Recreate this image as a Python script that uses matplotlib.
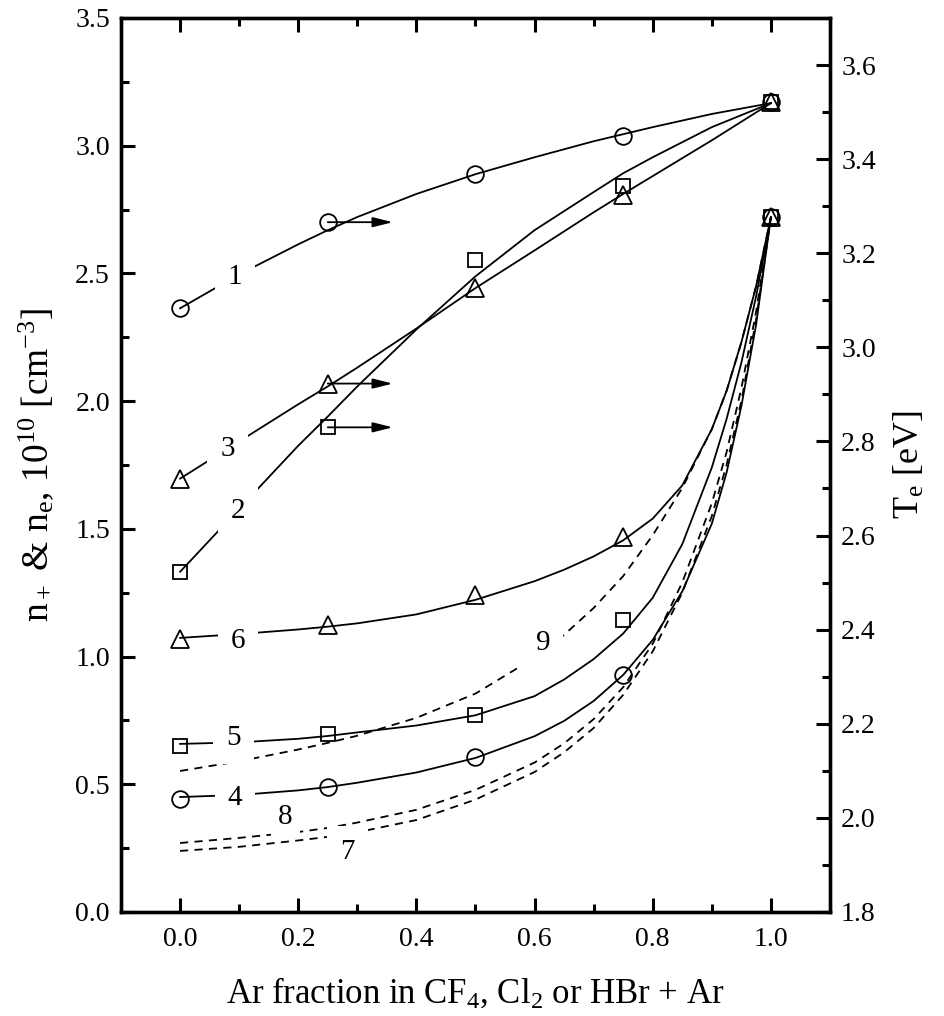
import matplotlib
matplotlib.use("Agg")
import matplotlib.pyplot as plt
from matplotlib.ticker import MultipleLocator

plt.rcParams['font.family'] = ['Liberation Serif', 'DejaVu Serif']
plt.rcParams['mathtext.fontset'] = 'custom'
plt.rcParams['mathtext.rm'] = 'Liberation Serif'
plt.rcParams['mathtext.it'] = 'Liberation Serif:italic'
plt.rcParams['mathtext.default'] = 'regular'

# ---- measured points ----
x_pts = [0.0, 0.25, 0.5, 0.75, 1.0]
# electron temperature (right axis) [eV]
te1_pts = [3.083, 3.266, 3.368, 3.449, 3.521]   # circles
te2_pts = [2.523, 2.830, 3.185, 3.343, 3.521]   # squares
te3_pts = [2.721, 2.923, 3.126, 3.323, 3.521]   # triangles
# densities (left axis) [1e10 cm^-3]
n4_pts = [0.442, 0.489, 0.607, 0.928, 2.72]     # circles
n5_pts = [0.650, 0.697, 0.771, 1.143, 2.72]     # squares
n6_pts = [1.070, 1.124, 1.241, 1.468, 2.72]     # triangles

# ---- fitted / model curves ----
fx_te = [0.0, 0.1, 0.2, 0.25, 0.3, 0.4, 0.5, 0.6, 0.7, 0.75, 0.8, 0.9, 1.0]
fit1 = [3.083, 3.155, 3.219, 3.249, 3.277, 3.326, 3.368, 3.404, 3.438, 3.453, 3.468, 3.496, 3.519]
fit2 = [2.523, 2.657, 2.791, 2.853, 2.917, 3.038, 3.151, 3.249, 3.330, 3.370, 3.404, 3.468, 3.519]
fit3 = [2.721, 2.800, 2.879, 2.917, 2.957, 3.040, 3.126, 3.206, 3.287, 3.326, 3.364, 3.440, 3.519]

fx_n = [0.0, 0.1, 0.2, 0.25, 0.3, 0.4, 0.5, 0.6, 0.65, 0.7, 0.75, 0.8, 0.85, 0.9,
        0.925, 0.95, 0.975, 1.0]
fit4 = [0.450, 0.458, 0.476, 0.489, 0.506, 0.546, 0.603, 0.688, 0.748, 0.826, 0.928,
        1.065, 1.255, 1.52, 1.72, 1.98, 2.30, 2.72]
fit5 = [0.658, 0.664, 0.678, 0.689, 0.703, 0.730, 0.770, 0.845, 0.910, 0.990, 1.090,
        1.23, 1.44, 1.74, 1.93, 2.15, 2.41, 2.72]
fit6 = [1.073, 1.088, 1.106, 1.117, 1.130, 1.165, 1.222, 1.295, 1.340, 1.392, 1.455,
        1.540, 1.67, 1.89, 2.04, 2.23, 2.45, 2.72]
mod7 = [0.239, 0.255, 0.280, 0.294, 0.312, 0.360, 0.440, 0.548, 0.625, 0.720, 0.850,
        1.02, 1.25, 1.55, 1.75, 2.00, 2.32, 2.72]
mod8 = [0.270, 0.290, 0.313, 0.329, 0.350, 0.400, 0.478, 0.585, 0.660, 0.755, 0.880,
        1.05, 1.29, 1.60, 1.80, 2.05, 2.35, 2.72]
mod9 = [0.552, 0.590, 0.636, 0.662, 0.690, 0.760, 0.855, 0.995, 1.085, 1.190, 1.315,
        1.475, 1.66, 1.89, 2.04, 2.23, 2.45, 2.72]

# curve labels (x, value)
lab_te = {'1': (0.093, 3.149), '2': (0.098, 2.653), '3': (0.080, 2.785)}
lab_n = {'4': (0.093, 0.446), '5': (0.090, 0.681), '6': (0.098, 1.061),
         '7': (0.283, 0.233), '8': (0.178, 0.370), '9': (0.614, 1.053)}
arrow_end_x = 0.36

fig = plt.figure(figsize=(9.44, 10.16), dpi=100)
ax = fig.add_axes([0.1282, 0.1024, 0.7510, 0.8799])
ax2 = ax.twinx()

lw = 1.3
kw_m = dict(linestyle='none', markerfacecolor='none', markeredgecolor='black',
            markeredgewidth=1.3, zorder=6)

# densities on left axis
ax.plot(fx_n, fit4, color='black', lw=lw, zorder=2)
ax.plot(fx_n, fit5, color='black', lw=lw, zorder=2)
ax.plot(fx_n, fit6, color='black', lw=lw, zorder=2)
for m in (mod7, mod8, mod9):
    ax.plot(fx_n, m, color='black', lw=lw, linestyle=(0, (4.5, 3.5)), zorder=2)
ax.plot(x_pts, n4_pts, marker='o', markersize=12, **kw_m)
ax.plot(x_pts, n5_pts, marker='s', markersize=10.5, **kw_m)
ax.plot(x_pts, n6_pts, marker='^', markersize=13, **kw_m)

for k, (xx, yy) in lab_n.items():
    pad = 0.25 if k == '8' else 0.45
    ax.text(xx, yy, k, fontsize=21, ha='center', va='center', zorder=5,
            bbox=dict(boxstyle='square,pad=%g' % pad, facecolor='white', edgecolor='none'))

# temperatures on right axis
ax2.plot(fx_te, fit1, color='black', lw=lw, zorder=2)
ax2.plot(fx_te, fit2, color='black', lw=lw, zorder=2)
ax2.plot(fx_te, fit3, color='black', lw=lw, zorder=2)
ax2.plot(x_pts, te1_pts, marker='o', markersize=12, **kw_m)
ax2.plot(x_pts, te2_pts, marker='s', markersize=10.5, **kw_m)
ax2.plot(x_pts, te3_pts, marker='^', markersize=13, **kw_m)
for k, (xx, yy) in lab_te.items():
    ax2.text(xx, yy, k, fontsize=21, ha='center', va='center', zorder=5,
             bbox=dict(boxstyle='square,pad=0.45', facecolor='white', edgecolor='none'))
for arr in (te1_pts, te2_pts, te3_pts):
    ax2.annotate('', xy=(arrow_end_x, arr[1]), xytext=(x_pts[1], arr[1]),
                 arrowprops=dict(arrowstyle='-|>,head_length=1.2,head_width=0.3',
                                 color='black', lw=1.3, shrinkA=0, shrinkB=0),
                 zorder=4)

# axes formatting
ax.set_xlim(-0.1, 1.1)
ax.set_ylim(0.0, 3.5)
ax2.set_ylim(1.8, 3.7)
ax.xaxis.set_major_locator(MultipleLocator(0.2))
ax.xaxis.set_minor_locator(MultipleLocator(0.1))
ax.yaxis.set_major_locator(MultipleLocator(0.5))
ax.yaxis.set_minor_locator(MultipleLocator(0.25))
ax2.yaxis.set_major_locator(MultipleLocator(0.2))
ax2.yaxis.set_minor_locator(MultipleLocator(0.1))
ax.xaxis.set_major_formatter(plt.FormatStrFormatter('%.1f'))
ax.yaxis.set_major_formatter(plt.FormatStrFormatter('%.1f'))
ax2.yaxis.set_major_formatter(plt.FormatStrFormatter('%.1f'))

ax.tick_params(which='both', direction='in', top=True, right=False, labelsize=20, width=2.2)
ax.tick_params(axis='x', which='both', pad=11)
ax.tick_params(axis='y', which='both', pad=8)
ax.tick_params(which='major', length=10)
ax.tick_params(which='minor', length=6)
ax2.tick_params(which='both', direction='in', right=True, labelsize=20, width=2.2, pad=8)
ax2.tick_params(which='major', length=10)
ax2.tick_params(which='minor', length=6)
for a in (ax, ax2):
    for s in a.spines.values():
        s.set_linewidth(2.4)

ax.set_xlabel('Ar fraction in CF$_4$, Cl$_2$ or HBr + Ar', fontsize=25)
ax.xaxis.set_label_coords(0.5, -0.072)
ax.set_ylabel('n$_+$ & n$_e$, 10$^{10}$ [cm$^{-3}$]', fontsize=27)
ax.yaxis.set_label_coords(-0.092, 0.5)
ax2.set_ylabel('T$_e$ [eV]', fontsize=26)
ax2.yaxis.set_label_coords(1.089, 0.5)

fig.savefig('out.png', dpi=100)
